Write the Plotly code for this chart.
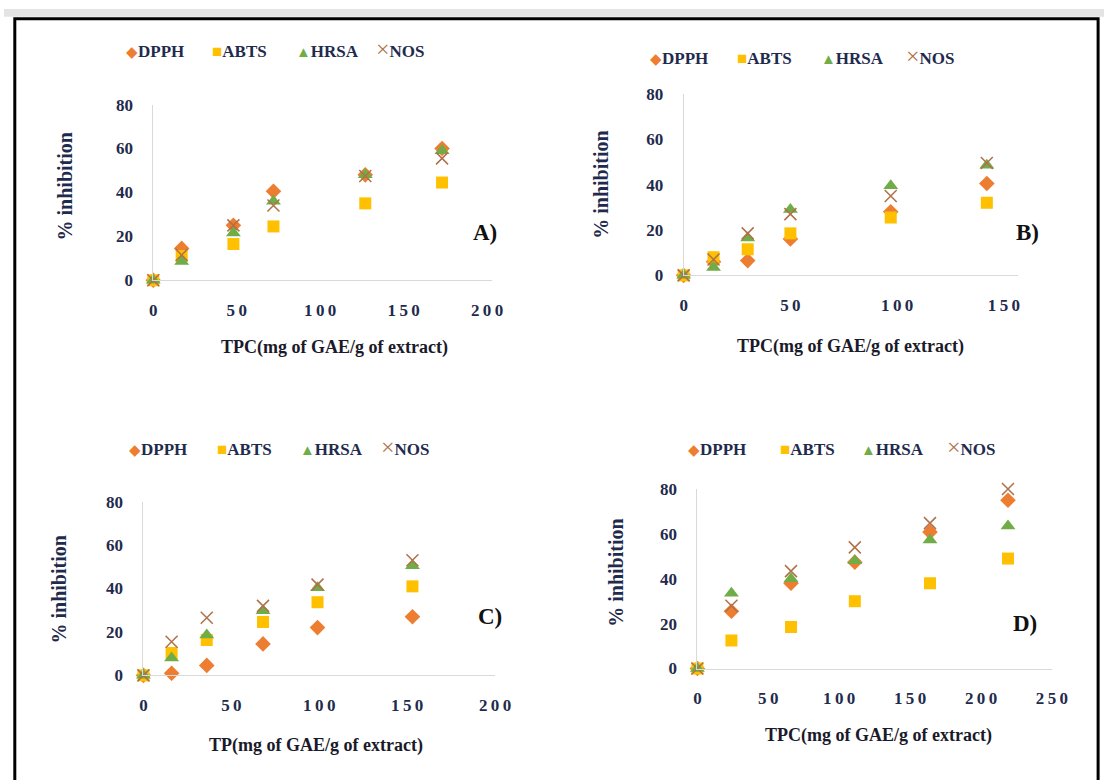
import plotly.graph_objects as go

W, H = 1120, 780

series_names = ["DPPH", "ABTS", "HRSA", "NOS"]

# Panel A
a_x = [0, 17, 48, 72, 127, 173]
a_dpph = [0, 14.5, 25, 40.5, 48, 60]
a_abts = [0, 11, 16.5, 24.5, 35, 44.5]
a_hrsa = [0, 8.5, 21.5, 36, 48, 59]
a_nos = [0, 11.5, 25, 34, 47.5, 55.5]

# Panel B
b_x = [0, 14, 30, 50, 97, 142]
b_dpph = [0, 6, 6.5, 16, 28, 40.5]
b_abts = [0, 8, 11.5, 18.5, 25.5, 32]
b_hrsa = [0, 3.5, 16.5, 29, 39.5, 48.5]
b_nos = [0, 7, 18.5, 27, 35, 49.5]

# Panel C
c_x = [0, 16, 36, 68, 99, 153]
c_dpph = [0, 1, 4.6, 14.5, 22, 27]
c_abts = [0, 10.3, 16.3, 24.6, 33.7, 41]
c_hrsa = [0, 8, 18.6, 29.8, 40.4, 50.5]
c_nos = [0, 15.5, 26.5, 32, 41.8, 53]

# Panel D
d_x = [0, 24, 66, 111, 164, 219]
d_dpph = [0, 25.5, 38, 47.4, 60.8, 75]
d_abts = [0, 12.5, 18.5, 30, 38, 49]
d_hrsa = [0, 33.5, 40, 48, 57.3, 63.5]
d_nos = [0, 28, 43.4, 54, 64.8, 80]

y_ticks = [0, 20, 40, 60, 80]
a_xticks = [0, 50, 100, 150, 200]
b_xticks = [0, 50, 100, 150]
c_xticks = [0, 50, 100, 150, 200]
d_xticks = [0, 50, 100, 150, 200, 250]

panel_labels = ["A)", "B)", "C)", "D)"]
x_titles = ["TPC(mg of GAE/g of extract)", "TPC(mg of GAE/g of extract)",
            "TP(mg of GAE/g of extract)", "TPC(mg of GAE/g of extract)"]
y_title = "% inhibition"

FONT = "Liberation Serif, Times New Roman, serif"
NAVY = "#1f2b4d"

colors = ["#ED7D31", "#FFC000", "#70AD47", "#B0704A"]
glyphs = ["\u25C6", "\u25A0", "\u25B2", "\u00D7"]
glyph_sizes = [15, 17, 15, 24]
glyph_dy = [0, 0, 0, -3]
styles = [
    dict(symbol="diamond", color=colors[0], size=12, line=dict(width=0)),
    dict(symbol="square", color=colors[1], size=12, line=dict(width=0)),
    dict(symbol="triangle-up", color=colors[2], size=13, line=dict(width=0)),
    dict(symbol="x-thin", color=colors[3], size=12, line=dict(width=1.5, color=colors[3])),
]

panels = [
    dict(x=a_x, ys=[a_dpph, a_abts, a_hrsa, a_nos], ticks=a_xticks, px=(152, 497), py=(278, 98), xmax=203,
         leg=([122, 210, 295, 377], 44), lab=(490, 229), xt=(337, 347), yt=(62, 182)),
    dict(x=b_x, ys=[b_dpph, b_abts, b_hrsa, b_nos], ticks=b_xticks, px=(692, 1032), py=(273, 87), xmax=156.4,
         leg=([656, 744, 830, 916], 51), lab=(1042, 229), xt=(862, 346), yt=(607, 180)),
    dict(x=c_x, ys=[c_dpph, c_abts, c_hrsa, c_nos], ticks=c_xticks, px=(142, 500), py=(683, 505), xmax=200,
         leg=([125, 215, 299, 382], 452), lab=(495, 623), xt=(318, 755), yt=(55, 595)),
    dict(x=d_x, ys=[d_dpph, d_abts, d_hrsa, d_nos], ticks=d_xticks, px=(706, 1067), py=(676, 492), xmax=250,
         leg=([694, 788, 871, 958], 452), lab=(1040, 630), xt=(890, 745), yt=(623, 578)),
]

fig = go.Figure()
annotations = []
layout = {}
for i, p in enumerate(panels):
    n = "" if i == 0 else str(i + 1)
    for name, vals, st in zip(series_names, p["ys"], styles):
        fig.add_trace(go.Scatter(
            x=p["x"], y=vals, mode="markers", name=name,
            marker=st, xaxis="x" + n, yaxis="y" + n,
            cliponaxis=False, showlegend=False,
        ))
    layout["xaxis" + n] = dict(
        domain=[p["px"][0] / W, p["px"][1] / W], range=[0, p["xmax"]],
        anchor="y" + n, showline=True, linecolor="#d9d9d9", linewidth=1,
        showgrid=False, zeroline=False, tickvals=p["ticks"],
        ticktext=["\u2009".join(str(t)) for t in p["ticks"]],
        tickfont=dict(family=FONT, size=17, color=NAVY, weight="bold"),
        ticks="", ticklabelstandoff=14, fixedrange=True,
    )
    layout["yaxis" + n] = dict(
        domain=[1 - p["py"][0] / H, 1 - p["py"][1] / H], range=[0, 80],
        anchor="x" + n, showline=True, linecolor="#d9d9d9", linewidth=1,
        showgrid=False, zeroline=False, tickvals=y_ticks,
        tickfont=dict(family=FONT, size=17, color=NAVY, weight="bold"),
        ticks="", ticklabelstandoff=16, fixedrange=True,
    )
    # legend entries (text with coloured marker glyphs)
    for k, name in enumerate(series_names):
        annotations.append(dict(
            text="<span style='color:%s;font-size:%dpx'>%s</span><b>%s</b>" % (colors[k], glyph_sizes[k], glyphs[k], name),
            xref="paper", yref="paper", x=p["leg"][0][k] / W, y=1 - (p["leg"][1] + glyph_dy[k]) / H,
            xanchor="left", yanchor="middle", showarrow=False,
            font=dict(family=FONT, size=17, color=NAVY),
        ))
    annotations.append(dict(
        text="<b>%s</b>" % panel_labels[i], xref="paper", yref="paper",
        x=p["lab"][0] / W, y=1 - p["lab"][1] / H, xanchor="center", yanchor="middle",
        showarrow=False, font=dict(family=FONT, size=23, color="#111111"),
    ))
    annotations.append(dict(
        text="<b>%s</b>" % x_titles[i], xref="paper", yref="paper",
        x=p["xt"][0] / W, y=1 - p["xt"][1] / H, xanchor="center", yanchor="middle",
        showarrow=False, font=dict(family=FONT, size=18, color="#1a1a2a"),
    ))
    annotations.append(dict(
        text="<b>%s</b>" % y_title, xref="paper", yref="paper", textangle=-90,
        x=p["yt"][0] / W, y=1 - p["yt"][1] / H, xanchor="center", yanchor="middle",
        showarrow=False, font=dict(family=FONT, size=20, color=NAVY),
    ))

fig.update_layout(
    width=W, height=H, margin=dict(l=0, r=0, t=0, b=0),
    paper_bgcolor="white", plot_bgcolor="white",
    annotations=annotations,
    shapes=[
        dict(type="rect", xref="paper", yref="paper", x0=0, x1=1, y0=1 - 8 / H, y1=1,
             fillcolor="#e4e4e4", line=dict(width=0), layer="below"),
        dict(type="rect", xref="paper", yref="paper",
             x0=11 / W, x1=1114 / W, y0=1 - 800 / H, y1=1 - 10 / H,
             line=dict(color="black", width=3)),
    ],
    **layout,
)

fig.write_html("out.html")
